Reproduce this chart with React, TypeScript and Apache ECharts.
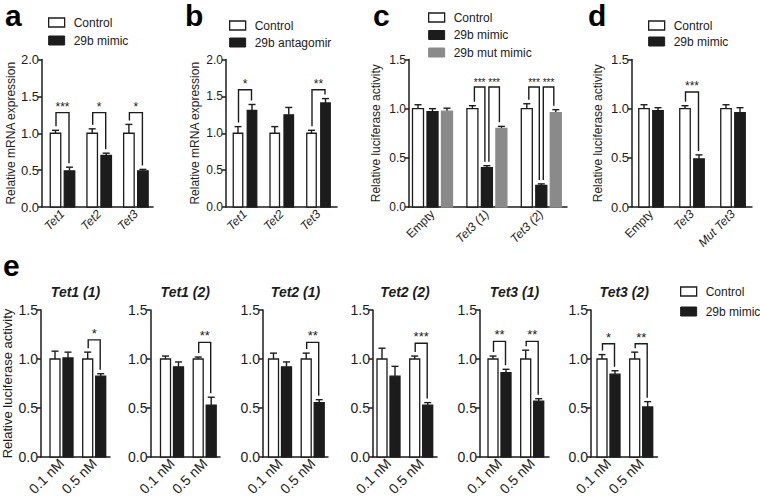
import React, { useEffect, useRef } from 'react';
import * as echarts from 'echarts';

// ---------- Panel a ----------
const aCategories = ['Tet1', 'Tet2', 'Tet3'];
const aControl = [1.0, 1.0, 1.0];
const aControlErr = [0.04, 0.06, 0.12];
const aMimic = [0.49, 0.70, 0.49];
const aMimicErr = [0.05, 0.03, 0.02];
const aBrackets: [number, number, number, number, string][] = [
  [0, 0, 1, 1.28, '***'], [1, 0, 1, 1.28, '*'], [2, 0, 1, 1.28, '*'],
];

// ---------- Panel b ----------
const bCategories = ['Tet1', 'Tet2', 'Tet3'];
const bControl = [1.0, 1.0, 1.0];
const bControlErr = [0.09, 0.09, 0.04];
const bAntagomir = [1.31, 1.25, 1.41];
const bAntagomirErr = [0.08, 0.10, 0.06];
const bBrackets: [number, number, number, number, string][] = [
  [0, 0, 1, 1.59, '*'], [2, 0, 1, 1.59, '**'],
];

// ---------- Panel c ----------
const cCategories = ['Empty', 'Tet3 (1)', 'Tet3 (2)'];
const cControl = [1.0, 1.0, 1.0];
const cControlErr = [0.04, 0.03, 0.05];
const cMimic = [0.97, 0.40, 0.22];
const cMimicErr = [0.03, 0.02, 0.015];
const cMutMimic = [0.975, 0.80, 0.96];
const cMutMimicErr = [0.03, 0.02, 0.03];
const cBrackets: [number, number, number, number, string][] = [
  [1, 0, 1, 1.22, '***'], [1, 1, 2, 1.22, '***'], [2, 0, 1, 1.22, '***'], [2, 1, 2, 1.22, '***'],
];

// ---------- Panel d ----------
const dCategories = ['Empty', 'Tet3', 'Mut Tet3'];
const dControl = [1.0, 1.0, 1.0];
const dControlErr = [0.04, 0.03, 0.04];
const dMimic = [0.98, 0.49, 0.96];
const dMimicErr = [0.03, 0.04, 0.05];
const dBrackets: [number, number, number, number, string][] = [[1, 0, 1, 1.17, '***']];

// ---------- Panel e ----------
const eTitles = ['Tet1 (1)', 'Tet1 (2)', 'Tet2 (1)', 'Tet2 (2)', 'Tet3 (1)', 'Tet3 (2)'];
const eDoses = ['0.1 nM', '0.5 nM'];
const eControl = [[1.0, 1.0], [1.0, 1.0], [1.0, 1.0], [1.0, 1.0], [1.0, 1.0], [1.0, 1.0]];
const eControlErr = [[0.08, 0.07], [0.03, 0.02], [0.06, 0.06], [0.11, 0.03], [0.03, 0.09], [0.045, 0.07]];
const eMimic = [[1.01, 0.825], [0.92, 0.53], [0.92, 0.555], [0.825, 0.53], [0.86, 0.57], [0.845, 0.51]];
const eMimicErr = [[0.06, 0.025], [0.05, 0.08], [0.05, 0.03], [0.10, 0.025], [0.035, 0.025], [0.035, 0.055]];
const eBrackets: [number, number, number, number, string][][] = [
  [[1, 0, 1, 1.195, '*']],
  [[1, 0, 1, 1.17, '**']],
  [[1, 0, 1, 1.17, '**']],
  [[1, 0, 1, 1.16, '***']],
  [[0, 0, 1, 1.18, '**'], [1, 0, 1, 1.18, '**']],
  [[0, 0, 1, 1.155, '*'], [1, 0, 1, 1.155, '**']],
];

const yMaxMRNA = 2.0;
const yMaxLuc = 1.5;

const INK = '#1c1c1c';
const WHITE = '#ffffff';
const GREY = '#8a8a8a';
const FONT = '"Liberation Sans", Arial, Helvetica, sans-serif';

type S = { name: string; values: number[]; errors: number[]; fill: string; stroke: string };
type Panel = {
  left: number; top: number; width: number; height: number;
  first: number; spacing: number; barW: number; pitch: number; inset: number;
  yMax: number; categories: string[]; italic: boolean[];
  series: S[]; brackets: [number, number, number, number, string][];
  yName: string; yNameGap: number; yNameSize: number; yLabelSize: number; xLabelSize: number; xLabelMargin: number; starSize: number;
};

const ctrl = (v: number[], e: number[]): S => ({ name: 'Control', values: v, errors: e, fill: WHITE, stroke: INK });
const dark = (name: string, v: number[], e: number[]): S => ({ name, values: v, errors: e, fill: INK, stroke: INK });

function buildOption() {
  const TOP = { top: 59.5, height: 147.5 };
  const BOT = { top: 310, height: 147 };
  const panels: Panel[] = [
    {
      left: 42, width: 111, ...TOP, first: 20.5, spacing: 36.7, barW: 10.5, pitch: 14, inset: 0.5, yMax: yMaxMRNA,
      categories: aCategories, italic: [true, true, true],
      series: [ctrl(aControl, aControlErr), dark('29b mimic', aMimic, aMimicErr)], brackets: aBrackets,
      yName: 'Relative mRNA expression', yNameGap: 25, yNameSize: 12, yLabelSize: 13, xLabelSize: 12, xLabelMargin: 5, starSize: 12,
    },
    {
      left: 226, width: 111, ...TOP, first: 19, spacing: 36.75, barW: 9.5, pitch: 14, inset: 0.5, yMax: yMaxMRNA,
      categories: bCategories, italic: [true, true, true],
      series: [ctrl(bControl, bControlErr), dark('29b antagomir', bAntagomir, bAntagomirErr)], brackets: bBrackets,
      yName: 'Relative mRNA expression', yNameGap: 25, yNameSize: 12, yLabelSize: 12, xLabelSize: 12, xLabelMargin: 5, starSize: 12,
    },
    {
      left: 409, width: 158, ...TOP, first: 23.5, spacing: 54.4, barW: 11, pitch: 14.5, inset: 2, yMax: yMaxLuc,
      categories: cCategories, italic: [false, true, true],
      series: [ctrl(cControl, cControlErr), dark('29b mimic', cMimic, cMimicErr),
        { name: '29b mut mimic', values: cMutMimic, errors: cMutMimicErr, fill: GREY, stroke: GREY }],
      brackets: cBrackets,
      yName: 'Relative luciferase activity', yNameGap: 27, yNameSize: 12, yLabelSize: 12, xLabelSize: 12, xLabelMargin: 5, starSize: 10,
    },
    {
      left: 632, width: 120, ...TOP, first: 19, spacing: 41, barW: 10.5, pitch: 14, inset: 0.5, yMax: yMaxLuc,
      categories: dCategories, italic: [false, true, true],
      series: [ctrl(dControl, dControlErr), dark('29b mimic', dMimic, dMimicErr)], brackets: dBrackets,
      yName: 'Relative luciferase activity', yNameGap: 28, yNameSize: 12, yLabelSize: 13, xLabelSize: 12, xLabelMargin: 5, starSize: 12,
    },
  ];
  const eLefts = [41, 150.5, 263, 373, 480, 591];
  const eWidths = [69, 69.5, 65, 64, 69, 66.5];
  const eFirsts = [20.5, 21.5, 17, 15.5, 19.5, 17.5];
  eTitles.forEach((_, k) => {
    panels.push({
      left: eLefts[k], width: eWidths[k], ...BOT, first: eFirsts[k], spacing: 32.7, barW: 10, pitch: 13, inset: 0.5, yMax: yMaxLuc,
      categories: eDoses, italic: [false, false],
      series: [ctrl(eControl[k], eControlErr[k]), dark('29b mimic', eMimic[k], eMimicErr[k])], brackets: eBrackets[k],
      yName: k === 0 ? 'Relative luciferase activity' : '', yNameGap: 27, yNameSize: 13, yLabelSize: 14, xLabelSize: 14, xLabelMargin: 4, starSize: 13,
    });
  });

  const grids: any[] = [];
  const xAxes: any[] = [];
  const yAxes: any[] = [];
  const series: any[] = [];

  panels.forEach((p, idx) => {
    grids.push({ left: p.left, top: p.top, width: p.width, height: p.height, containLabel: false, outerBoundsMode: 'none' });
    const xMin = -p.first / p.spacing;
    const xMax = xMin + p.width / p.spacing;
    xAxes.push({
      gridIndex: idx, type: 'value', min: xMin, max: xMax,
      axisLine: { show: true, onZero: false, lineStyle: { color: INK, width: 1.5 } },
      axisTick: { show: false }, splitLine: { show: false },
      axisLabel: {
        customValues: p.categories.map((_, i) => i),
        formatter: (v: number) => {
          const i = Math.round(v);
          return p.italic[i] ? `{i|${p.categories[i]}}` : `{n|${p.categories[i]}}`;
        },
        rotate: 45, margin: p.xLabelMargin, color: INK, fontFamily: FONT, fontSize: p.xLabelSize,
        rich: {
          i: { fontStyle: 'italic', fontSize: p.xLabelSize, fontFamily: FONT, color: INK },
          n: { fontSize: p.xLabelSize, fontFamily: FONT, color: INK },
        },
      },
    });
    yAxes.push({
      gridIndex: idx, type: 'value', min: 0, max: p.yMax, interval: 0.5, position: 'left',
      axisLine: { show: true, onZero: false, lineStyle: { color: INK, width: 1.5 } },
      axisTick: { show: true, length: 4, lineStyle: { color: INK, width: 1.5 } },
      splitLine: { show: false },
      axisLabel: { formatter: (v: number) => v.toFixed(1), margin: 3, color: INK, fontSize: p.yLabelSize, fontFamily: FONT },
      name: p.yName, nameLocation: 'middle', nameGap: p.yNameGap,
      nameTextStyle: { fontSize: p.yNameSize, color: INK, fontFamily: FONT },
    });
    const n = p.series.length;
    p.series.forEach((s, j) => {
      series.push({
        type: 'custom', name: s.name, xAxisIndex: idx, yAxisIndex: idx,
        itemStyle: { color: s.fill, borderColor: s.stroke },
        data: s.values.map((v, i) => [i, v, s.errors[i]]),
        renderItem: (params: any, api: any) => {
          const i = api.value(0);
          const v = api.value(1);
          const e = api.value(2);
          const base = api.coord([i, 0]);
          const top = api.coord([i, v]);
          const et = api.coord([i, v + e]);
          const cx = base[0] + (j - (n - 1) / 2) * p.pitch;
          const cap = 7;
          return {
            type: 'group',
            children: [
              { type: 'line', shape: { x1: cx, y1: top[1], x2: cx, y2: et[1] }, style: { stroke: INK, lineWidth: 1.4 } },
              { type: 'line', shape: { x1: cx - cap / 2, y1: et[1], x2: cx + cap / 2, y2: et[1] }, style: { stroke: INK, lineWidth: 1.4 } },
              {
                type: 'rect',
                shape: { x: cx - p.barW / 2, y: top[1], width: p.barW, height: base[1] - top[1] },
                style: { fill: s.fill, stroke: s.stroke, lineWidth: 1.3 },
              },
            ],
          };
        },
      });
    });
    if (p.brackets.length) {
      series.push({
        type: 'custom', name: 'significance', xAxisIndex: idx, yAxisIndex: idx,
        data: p.brackets.map((b) => [b[0], b[3]]),
        renderItem: (params: any, api: any) => {
          const [g, a, c, , label] = p.brackets[params.dataIndex];
          const yTop = api.coord([g, api.value(1)])[1];
          const baseX = api.coord([g, 0])[0];
          const xa = baseX + (a - (n - 1) / 2) * p.pitch + p.inset;
          const xc = baseX + (c - (n - 1) / 2) * p.pitch - p.inset;
          const sa = p.series[a];
          const sc = p.series[c];
          const ya = Math.max(yTop + 4, api.coord([g, sa.values[g] + sa.errors[g]])[1] - 4);
          const yc = Math.max(yTop + 4, api.coord([g, sc.values[g] + sc.errors[g]])[1] - 4);
          return {
            type: 'group',
            children: [
              {
                type: 'polyline',
                shape: { points: [[xa, ya], [xa, yTop], [xc, yTop], [xc, yc]] },
                style: { stroke: INK, lineWidth: 1.4, fill: null },
              },
              {
                type: 'text', x: (xa + xc) / 2, y: yTop,
                style: { text: label, align: 'center', verticalAlign: 'bottom', fontSize: p.starSize, fontFamily: FONT, fill: INK },
              },
            ],
          };
        },
      });
    }
  });

  const ctrlItem = { name: 'Control', itemStyle: { color: WHITE, borderColor: INK, borderWidth: 1.3 } };
  const darkItem = (name: string) => ({ name, itemStyle: { color: INK, borderColor: INK, borderWidth: 1 } });
  const legendBase = {
    orient: 'vertical', padding: 0, itemWidth: 16, itemHeight: 9, icon: 'rect', selectedMode: false,
    textStyle: { fontSize: 12, color: INK, fontFamily: FONT, padding: [0, 0, 0, 4] },
  };
  const legends = [
    { ...legendBase, left: 48, top: 16.5, itemGap: 6, data: [ctrlItem, darkItem('29b mimic')] },
    { ...legendBase, left: 229, top: 19.5, itemGap: 5, data: [ctrlItem, darkItem('29b antagomir')] },
    { ...legendBase, left: 428, top: 11.5, itemGap: 5.5, data: [ctrlItem, darkItem('29b mimic'), { name: '29b mut mimic', itemStyle: { color: GREY, borderColor: GREY, borderWidth: 1 } }] },
    { ...legendBase, left: 648, top: 19.5, itemGap: 4, data: [ctrlItem, darkItem('29b mimic')] },
    { ...legendBase, left: 680, top: 285.5, itemGap: 8, data: [ctrlItem, darkItem('29b mimic')] },
  ];

  const letters = [
    { t: 'a', x: 5, base: 22 }, { t: 'b', x: 185, base: 22 }, { t: 'c', x: 373, base: 22 },
    { t: 'd', x: 588, base: 22 }, { t: 'e', x: 3, base: 272 },
  ];
  const graphics: any[] = letters.map((l) => ({
    type: 'text', left: l.x, top: l.base - 22,
    style: { text: l.t, font: `bold 30px ${FONT}`, fill: '#000' },
  }));
  eTitles.forEach((t, k) => {
    const g = panels[4 + k];
    graphics.push({
      type: 'text', x: g.left + g.width / 2, y: 291.5,
      style: { text: t, align: 'center', verticalAlign: 'middle', font: `italic bold 14px ${FONT}`, fill: INK },
    });
  });

  return {
    animation: false,
    backgroundColor: '#ffffff',
    textStyle: { fontFamily: FONT },
    grid: grids,
    xAxis: xAxes,
    yAxis: yAxes,
    series,
    legend: legends,
    graphic: graphics,
  };
}

export default function App() {
  const ref = useRef<HTMLDivElement>(null);
  useEffect(() => {
    if (!ref.current) return;
    const chart = echarts.init(ref.current, undefined, { renderer: 'svg' });
    chart.setOption(buildOption() as any);
    return () => chart.dispose();
  }, []);
  return <div ref={ref} style={{ position: 'absolute', left: 0, top: 0, width: 760, height: 498, background: '#fff' }} />;
}
